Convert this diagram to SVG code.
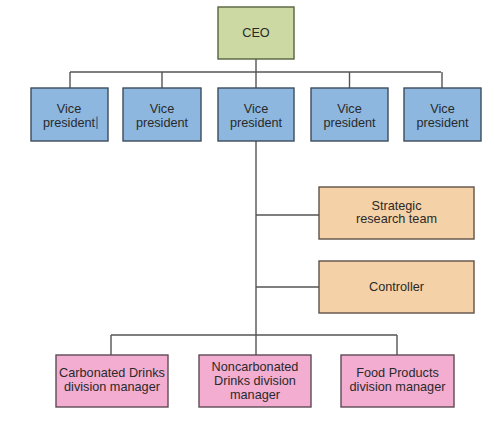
<svg xmlns="http://www.w3.org/2000/svg" width="494" height="427" viewBox="0 0 494 427">
<style>
.bx{stroke-width:1.4}
.ceo{fill:#cdd9a3;stroke:#56633f}
.vp{fill:#8db7df;stroke:#3d4c5c}
.st{fill:#f5d1a7;stroke:#5e5248}
.dm{fill:#f2add0;stroke:#5e4a55}
text{font-family:"Liberation Sans",Arial,sans-serif;font-size:12.7px;fill:#2a2a2a;text-anchor:middle}
.ln{stroke:#555;stroke-width:1.4;fill:none}
</style>
<rect width="494" height="427" fill="#fff"/>
<g id="connectors">
<path class="ln" d="M256 59V355M70 72H441M70 72V88M162 72V88M349.5 72V88M442 72V88M256 215H319M256 287H319M111 335H397M111 335V355M397 335V355"/>
</g>
<g id="ceo"><rect class="bx ceo" x="218" y="7" width="76" height="52"/><text x="256" y="37">CEO</text></g>
<g id="vp1"><rect class="bx vp" x="31" y="88" width="77" height="53"/><text x="69" y="112.5">Vice</text><text x="69" y="126.5">president</text><line x1="97" y1="116.5" x2="97" y2="129" stroke="#2a2a2a" stroke-width="0.8"/></g>
<g id="vp2"><rect class="bx vp" x="123" y="88" width="78" height="53"/><text x="162" y="112.5">Vice</text><text x="162" y="126.5">president</text></g>
<g id="vp3"><rect class="bx vp" x="218" y="88" width="76" height="53"/><text x="256" y="112.5">Vice</text><text x="256" y="126.5">president</text></g>
<g id="vp4"><rect class="bx vp" x="311" y="88" width="77" height="53"/><text x="349.5" y="112.5">Vice</text><text x="349.5" y="126.5">president</text></g>
<g id="vp5"><rect class="bx vp" x="404" y="88" width="77" height="53"/><text x="442.5" y="112.5">Vice</text><text x="442.5" y="126.5">president</text></g>
<g id="strategic"><rect class="bx st" x="319" y="187" width="155" height="52"/><text x="396.5" y="210">Strategic</text><text x="396.5" y="223">research team</text></g>
<g id="controller"><rect class="bx st" x="319" y="261" width="155" height="52"/><text x="396.5" y="291">Controller</text></g>
<g id="carbonated"><rect class="bx dm" x="56" y="355" width="112" height="52"/><text x="112" y="377">Carbonated Drinks</text><text x="112" y="391">division manager</text></g>
<g id="noncarbonated"><rect class="bx dm" x="199" y="355" width="112" height="52"/><text x="255" y="371">Noncarbonated</text><text x="255" y="385">Drinks division</text><text x="255" y="399">manager</text></g>
<g id="food"><rect class="bx dm" x="341" y="355" width="113" height="52"/><text x="397.5" y="377">Food Products</text><text x="397.5" y="391">division manager</text></g>
</svg>
